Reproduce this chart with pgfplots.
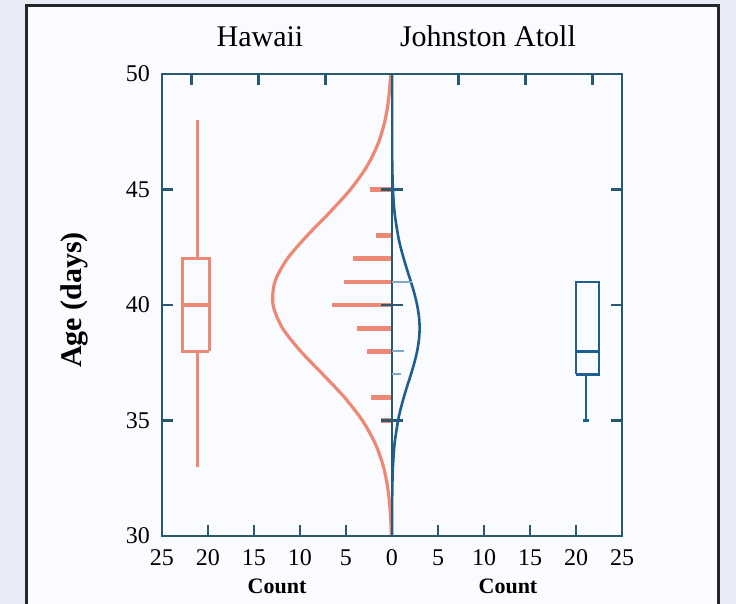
\documentclass[border=0pt]{standalone}
\usepackage{pgfplots}
\pgfplotsset{compat=1.18}
\usepackage{fontspec}
\setmainfont{Liberation Serif}

\definecolor{bgout}{RGB}{232,234,245}
\definecolor{bgin}{RGB}{250,251,254}
\definecolor{axcol}{RGB}{42,88,112}
\definecolor{haw}{RGB}{236,136,116}
\definecolor{joh}{RGB}{30,95,145}

\pgfplotsset{
  panel/.style={
    scale only axis, width=115bp, height=231bp,
    ymin=30, ymax=50, xmin=0, xmax=25,
    axis line style={axcol, line width=1.4bp},
    every tick/.style={axcol, line width=1.4bp},
    major tick length=5.5bp, tick align=inside,
    ytick={30,35,...,50}, xtick={0,5,...,25},
    xtick pos=lower, ytick pos=both,
    ticklabel style={font=\fontsize{12bp}{14bp}\selectfont, text=black},
    xticklabel style={anchor=base, yshift=-14.5bp},
    yticklabel style={xshift=-2.5bp},
    /pgf/number format/assume math mode=true,
  },
  topticks/.style={
    scale only axis, width=115bp, height=231bp,
    ymin=30, ymax=50, xmin=0, xmax=25,
    axis x line*=top, hide y axis,
    x axis line style={draw=none},
    xtick={7.25,14.5,21.75}, xticklabels={},
    tick align=inside, major tick length=5.5bp,
    every tick/.style={axcol, line width=1.4bp},
  }
}

\begin{document}
\begin{tikzpicture}
\begin{scope}[x=0.5bp,y=-0.5bp]
  \fill[bgout] (0,0) rectangle (736,604);
  \fill[bgin] (27,6) rectangle (719,620);
  \draw[line width=1.5bp, black!85] (27,620) -- (27,6) -- (719,6) -- (719,620);
\end{scope}

% Hawaii panel
\begin{axis}[panel, at={(81bp,-268bp)}, anchor=south west, x dir=reverse,
  yticklabel pos=left, axis on top]
  % fitted normal curve
  \addplot[haw, line width=1.6bp, smooth] coordinates {
    (0.07,30) (0.18,31) (0.43,32) (0.93,33) (1.82,34) (3.22,35) (5.16,36)
    (7.52,37) (9.93,38) (11.9,39) (12.92,40) (12.73,41) (11.38,42) (9.23,43)
    (6.79,44) (4.52,45) (2.73,46) (1.50,47) (0.75,48) (0.34,49) (0.14,50)};
  % histogram counts
  \addplot[haw, line width=2.4bp, xcomb] coordinates {
    (2.4,45) (1.7,43) (4.2,42) (5.2,41) (6.5,40) (3.8,39) (2.7,38) (2.3,36) (1.2,35)};
  % box plot: box, median, whiskers
  \addplot[haw, line width=1.4bp] coordinates {
    (19.85,38) (22.75,38) (22.75,42) (19.85,42) (19.85,38)};
  \addplot[haw, line width=1.6bp] coordinates {(19.85,40) (22.75,40)};
  \addplot[haw, line width=1.4bp] coordinates {(21.1,42) (21.1,48)};
  \addplot[haw, line width=1.4bp] coordinates {(21.1,38) (21.1,33)};
\end{axis}
\begin{axis}[topticks, at={(81bp,-268bp)}, anchor=south west, x dir=reverse]
\end{axis}

% Johnston Atoll panel
\begin{axis}[panel, at={(196bp,-268bp)}, anchor=south west,
  yticklabels={}, xticklabels={,5,10,15,20,25}]
  \addplot[joh, line width=1.3bp, smooth] coordinates {
    (0,30) (0.007,31) (0.03,32) (0.10,33) (0.28,34) (0.66,35) (0.94,35.5)
    (1.28,36) (1.66,36.5) (2.06,37) (2.43,37.5) (2.73,38) (2.93,38.5) (3.0,39)
    (2.93,39.5) (2.73,40) (2.43,40.5) (2.06,41) (1.66,41.5) (1.28,42) (0.94,42.5)
    (0.66,43) (0.28,44) (0.10,45) (0.03,46) (0.007,47) (0,48) (0,50)};
  \addplot[joh!55, line width=1bp, xcomb] coordinates {(2.2,41) (1.3,38) (1.0,37)};
  \addplot[joh, line width=1.4bp] coordinates {
    (20.0,37) (22.5,37) (22.5,41) (20.0,41) (20.0,37)};
  \addplot[joh, line width=1.4bp] coordinates {(20.0,38) (22.5,38)};
  \addplot[joh, line width=1.1bp] coordinates {(21.1,37) (21.1,35)};
  \addplot[joh, line width=1.1bp] coordinates {(20.8,35) (21.4,35)};
\end{axis}
\begin{axis}[topticks, at={(196bp,-268bp)}, anchor=south west]
\end{axis}

\begin{scope}[x=0.5bp,y=-0.5bp]
  \node[anchor=base, font=\fontsize{15bp}{18bp}\selectfont] at (260,46) {Hawaii};
  \node[anchor=base, font=\fontsize{15bp}{18bp}\selectfont] at (488,46) {Johnston Atoll};
  \node[rotate=90, font=\fontsize{15bp}{18bp}\selectfont\bfseries] at (74,300) {Age (days)};
  \node[font=\fontsize{11bp}{13bp}\selectfont\bfseries] at (277,586) {Count};
  \node[font=\fontsize{11bp}{13bp}\selectfont\bfseries] at (508,586) {Count};
\end{scope}
\pgfresetboundingbox
\useasboundingbox (0,0) rectangle (368bp,-302bp);
\end{tikzpicture}
\end{document}
